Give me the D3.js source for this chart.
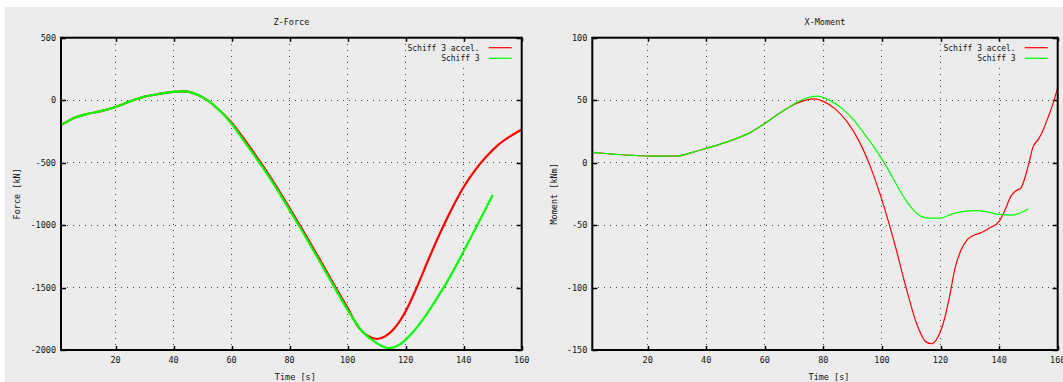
<!DOCTYPE html>
<html>
<head>
<meta charset="utf-8">
<title>Z-Force / X-Moment</title>
<script src="https://d3js.org/d3.v7.min.js"></script>
<style>
body { margin: 0; background: #fff; }
text { font-family: 'DejaVu Sans Mono', monospace; fill: #111; }
</style>
</head>
<body>
<script>
// ---- data ----
var xTicks = [20, 40, 60, 80, 100, 120, 140, 160];

// Z-Force [kN]
var forceYTicks = [-2000, -1500, -1000, -500, 0, 500];
var forceAccelT = [1.2, 5, 10, 15, 20, 25, 30, 35, 40, 44, 48, 52, 56, 60, 65, 70, 75, 80, 85, 90, 95, 100, 104, 107, 110, 113, 116, 120, 124, 128, 132, 136, 140, 144, 148, 152, 156, 160];
var forceAccelV = [-200, -150, -112, -88, -55, -10, 28, 50, 66, 70, 45, -5, -85, -180, -335, -500, -675, -865, -1060, -1260, -1465, -1665, -1825, -1888, -1912, -1890, -1830, -1690, -1490, -1268, -1058, -865, -695, -558, -447, -356, -290, -235];
var forceT = [1.2, 5, 10, 15, 20, 25, 30, 35, 40, 44, 48, 52, 56, 60, 65, 70, 75, 80, 85, 90, 95, 100, 105, 110, 114, 118, 122, 126, 130, 135, 140, 145, 150];
var forceV = [-200, -150, -112, -88, -55, -10, 28, 50, 66, 70, 45, -5, -85, -190, -350, -515, -690, -880, -1075, -1275, -1480, -1680, -1850, -1945, -1985, -1955, -1870, -1755, -1615, -1425, -1210, -985, -760];

// X-Moment [kNm]
var momentYTicks = [-150, -100, -50, 0, 50, 100];
var momentAccelT = [1.1, 5, 10, 15, 20, 25, 30, 35, 40, 45, 50, 55, 60, 65, 70, 74, 77, 80, 84, 88, 92, 96, 100, 104, 108, 112, 115, 117, 119, 121, 123, 125, 127, 129, 131, 134, 137, 140, 142, 144, 145.5, 147.5, 150, 151.5, 153.5, 155, 157, 158.5, 160];
var momentAccelV = [8.2, 7.5, 6.5, 5.8, 5.3, 5.2, 5.3, 8, 11.4, 15, 19, 24, 31.4, 39.5, 46.5, 50, 51, 49, 43, 33, 18, -3, -30, -62, -98, -130, -143.5, -145, -140, -128, -108, -84, -70, -62, -58.5, -56, -52, -47, -38, -27, -23, -20, -2, 12, 19, 26, 38, 48, 60];
var momentT = [1.1, 5, 10, 15, 20, 25, 30, 35, 40, 45, 50, 55, 60, 65, 70, 74, 78, 82, 86, 90, 94, 98, 102, 106, 110, 113, 116, 120, 124, 128, 132, 136, 140, 144, 147, 150];
var momentV = [8.2, 7.5, 6.5, 5.8, 5.3, 5.2, 5.3, 8, 11.4, 15, 19, 24, 31.4, 39.5, 47, 51.5, 53.2, 50, 44, 35, 23, 10, -5, -22, -36, -42.5, -44.5, -44.5, -41, -39, -38.5, -39.5, -41.5, -42, -40.5, -37];

var seriesNames = ["Schiff 3 accel.", "Schiff 3"];
var seriesColors = ["#ff0000", "#00ff00"];

// ---- page ----
var W = 1063, H = 382;
var bg = "#ececec";
var svg = d3.select("body").append("svg")
  .attr("width", W)
  .attr("height", H);

svg.append("rect").attr("x", 5).attr("y", 7).attr("width", W - 5).attr("height", H - 7).attr("fill", bg);

function zip(t, v) { return t.map(function(d, i) { return [d, v[i]]; }); }

function drawPanel(cfg) {
  var x = d3.scaleLinear().domain(cfg.xDomain).range([cfg.left, cfg.right]);
  var y = d3.scaleLinear().domain(cfg.yDomain).range([cfg.bottom, cfg.top]);
  var g = svg.append("g");

  // grid
  g.selectAll(".vgrid").data(xTicks).enter().append("line")
    .attr("x1", function(d) { return x(d); }).attr("x2", function(d) { return x(d); })
    .attr("y1", cfg.top).attr("y2", cfg.bottom)
    .attr("stroke", "#444").attr("stroke-width", 1).attr("stroke-dasharray", "1,5")
    .attr("shape-rendering", "crispEdges");
  g.selectAll(".hgrid").data(cfg.yTicks).enter().append("line")
    .attr("x1", cfg.left).attr("x2", cfg.right)
    .attr("y1", function(d) { return y(d); }).attr("y2", function(d) { return y(d); })
    .attr("stroke", "#444").attr("stroke-width", 1).attr("stroke-dasharray", "1,5")
    .attr("shape-rendering", "crispEdges");

  // legend box (hides grid behind key)
  g.append("rect").attr("x", cfg.right - 113).attr("y", cfg.top + 3).attr("width", 110).attr("height", 25).attr("fill", bg);

  // tick marks, mirrored
  g.selectAll(".xt").data(xTicks).enter().append("path")
    .attr("d", function(d) { var p = Math.round(x(d)) + 0.5; return "M" + p + "," + cfg.top + "v4M" + p + "," + cfg.bottom + "v-4"; })
    .attr("stroke", "#000").attr("stroke-width", 1.5);
  g.selectAll(".yt").data(cfg.yTicks).enter().append("path")
    .attr("d", function(d) { var p = Math.round(y(d)) + 0.5; return "M" + cfg.left + "," + p + "h5M" + cfg.right + "," + p + "h-5"; })
    .attr("stroke", "#000").attr("stroke-width", 1.5);

  // tick labels
  g.selectAll(".xl").data(xTicks).enter().append("text")
    .attr("x", function(d) { return x(d); }).attr("y", cfg.bottom + 13)
    .attr("text-anchor", "middle").attr("font-size", "8.5px")
    .text(function(d) { return d; });
  g.selectAll(".yl").data(cfg.yTicks).enter().append("text")
    .attr("x", cfg.left - 5).attr("y", function(d) { return y(d) + 3; })
    .attr("text-anchor", "end").attr("font-size", "8.5px")
    .text(function(d) { return d; });

  // curves
  var line = d3.line()
    .x(function(d) { return x(d[0]); })
    .y(function(d) { return y(d[1]); })
    .curve(d3.curveMonotoneX);
  cfg.series.forEach(function(s, i) {
    g.append("path").datum(s)
      .attr("d", line)
      .attr("fill", "none")
      .attr("stroke", seriesColors[i])
      .attr("stroke-width", cfg.lineWidth);
  });

  // border
  g.append("rect").attr("x", cfg.left).attr("y", cfg.top)
    .attr("width", cfg.right - cfg.left).attr("height", cfg.bottom - cfg.top)
    .attr("fill", "none").attr("stroke", "#000").attr("stroke-width", 2);

  // legend
  seriesNames.forEach(function(n, i) {
    var ly = cfg.top + 10 + i * 10.6;
    g.append("text").attr("x", cfg.right - 42).attr("y", ly + 3)
      .attr("text-anchor", "end").attr("font-size", "8px").text(n);
    g.append("line").attr("x1", cfg.right - 33).attr("x2", cfg.right - 10)
      .attr("y1", ly).attr("y2", ly)
      .attr("stroke", seriesColors[i]).attr("stroke-width", 1.2);
  });

  // titles
  var cx = (cfg.left + cfg.right) / 2;
  g.append("text").attr("x", cx).attr("y", 25).attr("text-anchor", "middle")
    .attr("font-size", "8.5px").text(cfg.title);
  g.append("text").attr("x", cx + 4).attr("y", 380).attr("text-anchor", "middle")
    .attr("font-size", "8.5px").text("Time [s]");
  g.append("text").attr("transform", "translate(" + cfg.yLabelX + "," + ((cfg.top + cfg.bottom) / 2) + ") rotate(-90)")
    .attr("text-anchor", "middle").attr("font-size", "8.5px").text(cfg.yLabel);
}

drawPanel({
  left: 61, right: 521.7, top: 37.7, bottom: 350,
  xDomain: [1.2, 160], yDomain: [-2000, 500], yTicks: forceYTicks,
  title: "Z-Force", yLabel: "Force [kN]", yLabelX: 20, lineWidth: 2.2,
  series: [zip(forceAccelT, forceAccelV), zip(forceT, forceV)]
});

drawPanel({
  left: 592.3, right: 1057.7, top: 37.7, bottom: 350,
  xDomain: [1.1, 160], yDomain: [-150, 100], yTicks: momentYTicks,
  title: "X-Moment", yLabel: "Moment [kNm]", yLabelX: 557, lineWidth: 1.2,
  series: [zip(momentAccelT, momentAccelV), zip(momentT, momentV)]
});
</script>
</body>
</html>
